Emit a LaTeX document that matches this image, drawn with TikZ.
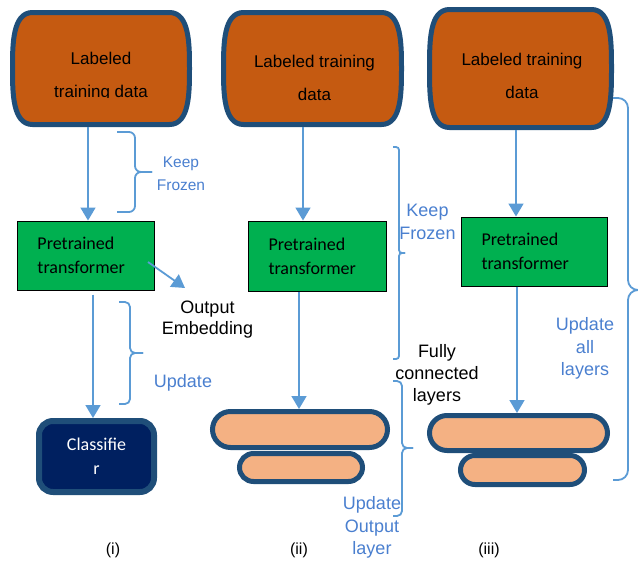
\documentclass[tikz,border=0pt]{standalone}
\usepackage{fontspec}
\setmainfont{Liberation Sans}
\newfontfamily\calibrish{Carlito}
\usetikzlibrary{shapes.misc, arrows.meta}

\definecolor{edgeblue}{HTML}{1F4E79}
\definecolor{rust}{HTML}{C55A11}
\definecolor{leaf}{HTML}{00B050}
\definecolor{navy}{HTML}{002060}
\definecolor{peach}{HTML}{F4B183}
\definecolor{linkblue}{HTML}{5B9BD5}
\definecolor{notblue}{HTML}{4A7FCF}

\newcommand\setfs[2]{\fontsize{#1}{#2}\selectfont}
% curly bracket opening to the left: xleft, xspine, xtip, ytop, ymid, ybottom, corner radius
\newcommand\officebrace[7]{%
  \draw[bracket, rounded corners=#7] (#1,#4) -- (#2,#4) -- (#2,#5) -- (#3,#5);
  \draw[bracket, rounded corners=#7] (#3,#5) -- (#2,#5) -- (#2,#6) -- (#1,#6);}
% data store outline with bulging sides, drawn round a placeholder node
\newcommand\dataoutline[1]{%
  \draw[datab] ([xshift=20pt]#1.north west) -- ([xshift=-20pt]#1.north east)
    .. controls (#1.north east) and ([yshift=-32pt]#1.north east) .. (#1.east)
    .. controls ([yshift=32pt]#1.south east) and (#1.south east) .. ([xshift=-20pt]#1.south east)
    -- ([xshift=20pt]#1.south west)
    .. controls (#1.south west) and ([yshift=32pt]#1.south west) .. (#1.west)
    .. controls ([yshift=-32pt]#1.north west) and (#1.north west) .. cycle;}

\tikzset{
  every node/.style={inner sep=0pt},
  holder/.style={outer sep=0pt},
  datab/.style={draw=edgeblue, line width=5pt, fill=rust},
  datatext/.style={align=center, font=\setfs{17}{33}},
  transf/.style={draw=black, line width=1pt, fill=leaf, align=left, inner xsep=20pt,
                 font=\calibrish\setfs{18}{24}},
  clsbox/.style={draw=edgeblue, line width=6pt, fill=navy, rounded corners=14pt,
                 text=white, align=center, font=\calibrish\setfs{18}{24}},
  layer/.style={rounded rectangle, draw=edgeblue, line width=5pt, fill=peach},
  arr/.style={draw=linkblue, line width=1.8pt, -{Triangle[width=15pt,length=13pt]}},
  bracket/.style={draw=linkblue, line width=1.8pt},
  note/.style={text=notblue, align=center, font=\setfs{18}{22.5}},
  plain/.style={text=black, align=center, font=\setfs{18}{22}},
  caption/.style={text=black, font=\setfs{16}{18}},
}

\begin{document}
\begin{tikzpicture}[x=1pt, y=-1pt]
\useasboundingbox (0,0) rectangle (638,562);

% ---------- (i) feature extraction with a classifier ----------
\node[holder, minimum width=177pt, minimum height=112pt] (d1) at (101,68.5) {};
\dataoutline{d1}
\begin{scope}
  \clip (14,14) rectangle (188,97);
  \node[datatext] (d1t) at (101,77) {Labeled\\training data};
\end{scope}
\node[transf, text width=97pt, minimum height=69pt] (t1) at (86,255.5) {Pretrained\\transformer};
\node[clsbox, minimum width=115pt, minimum height=71pt] (c1) at (96.5,456.5) {Classifie\\r};
\coordinate (emb) at (185,288);

\draw[arr] ([xshift=-13pt,yshift=-2.5pt]d1.south) -- ([xshift=2pt]t1.north);
\draw[arr] ([xshift=7pt,yshift=-4pt]t1.south) -- ([xshift=-3.5pt]c1.north);
\draw[arr] ([xshift=-7pt,yshift=-6.5pt]t1.east) -- (emb);

\officebrace{117}{135}{152}{132}{172}{212}{6pt}
\officebrace{119}{130}{143}{302}{353}{404}{5pt}
\node[note, font=\setfs{15.5}{23}] (k1) at (181,173.5) {Keep\\Frozen};
\node[note] (u1) at (183,383) {Update};
\node[plain, font=\setfs{18}{21.5}] (oe) at (207.5,319.5) {Output\\Embedding};
\node[caption] (cap1) at (113,550) {(i)};

% ---------- (ii) fine-tune the output layers ----------
\node[holder, minimum width=178pt, minimum height=112pt] (d2) at (312.5,68.5) {};
\dataoutline{d2}
\node[datatext] (d2t) at (314.5,77.5) {Labeled training\\data};
\node[transf, text width=98pt, minimum height=70pt] (t2) at (317.5,256) {Pretrained\\transformer};
\node[layer, minimum width=175pt, minimum height=36pt] (f2a) at (300,429.5) {};
\node[layer, minimum width=123pt, minimum height=28pt] (f2b) at (301,467.5) {};

\draw[arr] ([xshift=-9.5pt,yshift=-2.5pt]d2.south) -- ([xshift=-14.5pt]t2.north);
\draw[arr] ([xshift=-18.5pt]t2.south) -- ([xshift=-1pt]f2a.north);

\officebrace{393}{399}{405}{147}{253}{359}{3pt}
\officebrace{393}{402}{413}{381}{448}{516}{5pt}
\node[note, font=\setfs{18}{23}] (k2) at (427.5,221.5) {Keep\\Frozen};
\node[note] (u2) at (372,527.5) {Update\\Output\\layer};
\node[plain] (fc) at (437,375) {Fully\\connected\\layers};
\node[caption] (cap2) at (299,550) {(ii)};

% ---------- (iii) fine-tune every layer ----------
\node[holder, minimum width=182pt, minimum height=118pt] (d3) at (520.5,68.5) {};
\dataoutline{d3}
\node[datatext] (d3t) at (522,76) {Labeled training\\data};
\node[transf, text width=106pt, minimum height=69pt] (t3) at (534.5,251.5) {Pretrained\\transformer};
\node[layer, minimum width=178pt, minimum height=35pt] (f3a) at (518.5,433) {};
\node[layer, minimum width=124pt, minimum height=29pt] (f3b) at (522.5,470) {};

\draw[arr] ([xshift=-4.5pt,yshift=-2.5pt]d3.south) -- ([xshift=-18.5pt]t3.north);
\draw[arr] ([xshift=-17.5pt]t3.south) -- ([xshift=-1.5pt]f3a.north);

\officebrace{613}{628}{638}{98}{290}{480}{10pt}
\node[note] (u3) at (585,348.5) {Update\\all\\layers};
\node[caption] (cap3) at (489,550) {(iii)};
\end{tikzpicture}
\end{document}
